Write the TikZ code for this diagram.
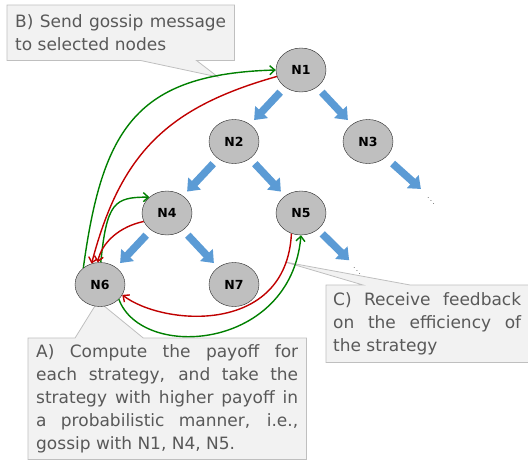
\documentclass[tikz,border=0pt]{standalone}
\usepackage{fontspec}
\setmainfont{DejaVu Sans}
\usepackage{xcolor}
\usepackage{tikz}
\usetikzlibrary{calc,positioning,arrows.meta,shapes.geometric,backgrounds}

\definecolor{nodegray}{HTML}{BFBFBF}
\definecolor{arrowblue}{HTML}{5B9BD5}
\definecolor{gossipgreen}{HTML}{008000}
\definecolor{gossipred}{HTML}{C00000}
\definecolor{notefill}{HTML}{F2F2F2}
\definecolor{noteline}{HTML}{BFBFBF}
\definecolor{notetext}{HTML}{595959}

\begin{document}
\begin{tikzpicture}[
    x=1pt, y=1pt,
    node distance=71.5pt and 67pt, on grid,
    nd/.style={ellipse, draw=black!85, thin, fill=nodegray,
               minimum width=50pt, minimum height=44pt, inner sep=0pt,
               font=\fontsize{12.5}{12.5}\selectfont\bfseries},
    dts/.style={inner sep=0pt, font=\fontsize{6}{6}\selectfont},
    blk/.style={-{Triangle[length=11pt,width=17pt]}, line width=7.5pt, draw=arrowblue},
    garr/.style={-{Straight Barb[length=5pt,width=9pt]}, line width=1.4pt, draw=gossipgreen},
    rarr/.style={-{Straight Barb[length=5pt,width=9pt]}, line width=1.4pt, draw=gossipred},
    note/.style={rectangle, inner xsep=8pt, inner ysep=0pt, align=justify,
                 anchor=north west, text=notetext,
                 font=\fontsize{17}{23}\selectfont},
    notebg/.style={draw=noteline, fill=notefill, line width=0.8pt}
]
\useasboundingbox (0,0) rectangle (528,-461);

% tree
\node[nd] (n1) at (301,-70) {N1};
\node[nd, below left=of n1]  (n2) {N2};
\node[nd, below right=of n1] (n3) {N3};
\node[nd, below left=of n2]  (n4) {N4};
\node[nd, below right=of n2] (n5) {N5};
\node[nd, below left=of n4]  (n6) {N6};
\node[nd, below right=of n4] (n7) {N7};
\node[dts, below right=56.5pt and 63pt of n3] (d3) {$\ddots$};
\node[dts, below right=55pt and 56pt of n5]   (d5) {$\ddots$};

\draw[blk] ($(n1)!0.31!(n2)$) -- ($(n1)!0.7!(n2)$);
\draw[blk] ($(n1)!0.31!(n3)$) -- ($(n1)!0.7!(n3)$);
\draw[blk] ($(n2)!0.31!(n4)$) -- ($(n2)!0.7!(n4)$);
\draw[blk] ($(n2)!0.31!(n5)$) -- ($(n2)!0.7!(n5)$);
\draw[blk] ($(n4)!0.31!(n6)$) -- ($(n4)!0.7!(n6)$);
\draw[blk] ($(n4)!0.31!(n7)$) -- ($(n4)!0.7!(n7)$);
\draw[blk] ($(n3)!0.39!(d3)$) -- ($(n3)!0.84!(d3)$);
\draw[blk] ($(n5)!0.38!(d5)$) -- ($(n5)!0.86!(d5)$);

% callouts
\node[note, text width=211pt, minimum width=227pt, minimum height=55pt] (nb) at (7,-5)
    {B) Send gossip message\linebreak to selected nodes};
\node[note, inner xsep=7pt, text width=188pt, minimum width=202pt, minimum height=77pt] (nc) at (326,-285)
    {C) Receive feedback\linebreak on the efficiency of\linebreak the strategy};
\node[note, text width=262pt, minimum width=278pt, minimum height=121pt] (na) at (28,-338)
    {A) Compute the payoff for\linebreak each strategy, and take the\linebreak strategy with higher payoff in\linebreak a probabilistic manner, i.e.,\linebreak gossip with N1, N4, N5.};
\coordinate (tb) at (218,-77);
\coordinate (tc) at (285,-262);
\coordinate (ta) at (98,-301);

\begin{scope}[on background layer]
\draw[notebg] (nb.north west) -- (nb.north east) -- (nb.south east)
    -- ($(nb.south west)!0.833!(nb.south east)$) -- (tb)
    -- ($(nb.south west)!0.586!(nb.south east)$) -- (nb.south west) -- cycle;
\draw[notebg] (nc.north west) -- ($(nc.north west)!0.183!(nc.north east)$) -- (tc)
    -- ($(nc.north west)!0.416!(nc.north east)$) -- (nc.north east)
    -- (nc.south east) -- (nc.south west) -- cycle;
\draw[notebg] (na.north west) -- ($(na.north west)!0.169!(na.north east)$) -- (ta)
    -- ($(na.north west)!0.414!(na.north east)$) -- (na.north east)
    -- (na.south east) -- (na.south west) -- cycle;
\end{scope}

% gossip exchange
\draw[garr] (n6.135) .. controls +(19,139) and +(-140,-4) .. (n1.180);
\draw[rarr] (n1.195) .. controls +(-110,-31) and +(29,110) .. (n6.112);
\draw[garr] (n6.88)  .. controls +(6,60) and +(-35,0) .. (n4.138);
\draw[rarr] (n4.200) .. controls +(-24,-5) and +(4,20) .. (n6.96);
\draw[garr] (n6.-38) .. controls +(23,-62) and +(-10,-115) .. (n5.270);
\draw[rarr] (n5.245) .. controls +(-5,-102) and +(41,-31) .. (n6.-25);
\end{tikzpicture}
\end{document}
